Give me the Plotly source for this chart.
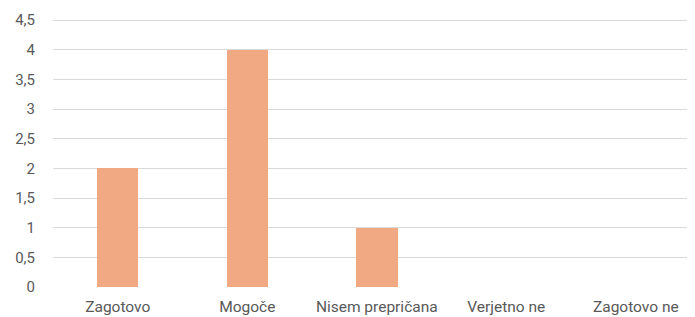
import plotly.graph_objects as go

categories = ["Zagotovo", "Mogoče", "Nisem prepričana", "Verjetno ne", "Zagotovo ne"]
values = [2, 4, 1, 0, 0]
y_ticks = [0, 0.5, 1, 1.5, 2, 2.5, 3, 3.5, 4, 4.5]
y_tick_labels = ["0", "0,5", "1", "1,5", "2", "2,5", "3", "3,5", "4", "4,5"]

fig = go.Figure(go.Bar(
    x=categories, y=values,
    marker=dict(color="#F1A983", line=dict(width=0)),
    width=0.32,
))
fig.update_layout(
    width=687, height=309,
    margin=dict(l=45, r=0, t=11, b=30),
    paper_bgcolor="white", plot_bgcolor="white",
    font=dict(family="Roboto", size=15, color="#595959"),
    showlegend=False,
    bargap=0,
)
fig.update_xaxes(range=[-0.5, 4.457], showgrid=False, zeroline=False, showline=False, ticks="",
                 ticklabelstandoff=8, tickfont=dict(size=15.5))
fig.update_yaxes(range=[0, 4.517], tickvals=y_ticks, ticktext=y_tick_labels, showgrid=True,
                 gridcolor="#D9D9D9", gridwidth=1, zeroline=False, showline=False, ticks="",
                 ticklabelstandoff=17, tickfont=dict(size=15))
fig.write_html("out.html")
